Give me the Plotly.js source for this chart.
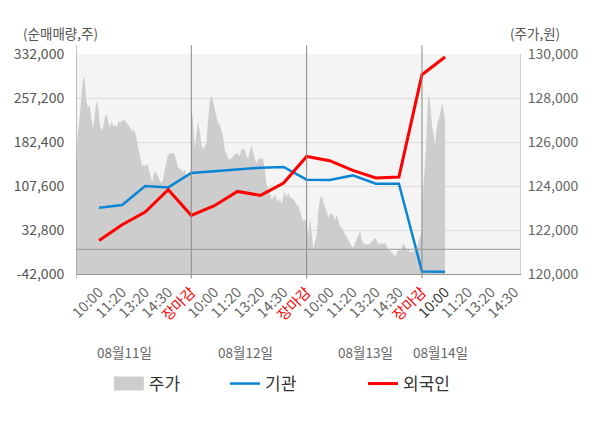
<!DOCTYPE html>
<html>
<head>
<meta charset="utf-8">
<script src="https://cdn.plot.ly/plotly-3.0.1.min.js"></script>
<style>
  html, body {margin: 0; padding: 0; background: #fff;}
  #graph {width: 600px; height: 428px;}
</style>
</head>
<body>
<div id="graph"></div>
<script>
//trading days and the time slots shown under each day
const days = ['08월11일', '08월12일', '08월13일', '08월14일']
const slotLabels = ['10:00', '11:20', '13:20', '14:30', '장마감']

//net buying (shares), one value per time slot
const institution = [70700, 75300, 107600, 105200, 129700, 133100, 136500, 138700, 139900, 118300,
  117800, 125600, 111500, 111500, -37600, -38000]
const foreign = [15100, 41800, 63400, 101300, 57600, 74100, 98400, 91600, 112700, 157900,
  150600, 134200, 121200, 122900, 296800, 326900]

//share price through each day (won)
const price0811 = [125100, 126350, 127000, 127800, 128750, 129000, 127900, 127550, 127700, 127100,
  126600, 127150, 127850, 127600, 126850, 126500, 126700, 127100, 127250, 126950,
  126650, 126950, 126700, 126800, 126650, 126950, 126850, 126950, 127000, 126950,
  126850, 126800, 126650, 126500, 126550, 126400, 126050, 125650, 125250, 124900,
  124950, 124900, 125050, 124750, 124450, 124150, 124600, 124650, 124500, 124300,
  124150, 124200, 124600, 125050, 125350, 125450, 125500, 125500, 125450, 125200,
  124900, 124750, 124800, 124600, 124750, 124500, 124450, 124650, 124750]
const price0812 = [127450, 127000, 125700, 126250, 126950, 126500, 125900, 125650, 125800, 125950,
  127000, 127750, 128150, 127800, 127500, 127150, 126850, 126800, 126550, 126250,
  125650, 125450, 125250, 125200, 125250, 125350, 125450, 125500, 125450, 125350,
  125650, 125700, 125600, 125350, 125250, 125600, 125850, 125500, 125200, 125050,
  125200, 125250, 125250, 125200, 124750, 124050, 123850, 123700, 123400, 123450,
  123600, 123400, 123250, 123450, 123150, 123500, 123750, 123450, 123700, 123500,
  123450, 123400, 123300, 123150, 123100, 122900, 122600, 122400, 122450, 122400]
const price0813 = [122400, 121700, 122600, 121900, 121100, 121500, 121700, 122850, 123400, 123550,
  123300, 123100, 122900, 122550, 122750, 122750, 122650, 122450, 122700, 122400,
  122150, 122100, 121950, 121800, 121650, 121550, 121400, 121250, 121200, 121400,
  121650, 121800, 121950, 121550, 121400, 121350, 121350, 121350, 121400, 121500,
  121550, 121650, 121500, 121350, 121400, 121400, 121350, 121400, 121250, 121100,
  121050, 120950, 120900, 120800, 120950, 121100, 121050, 121200, 121400, 121250,
  121050, 121100, 120950, 121050, 120950, 121250, 121100, 121500, 121700, 121950]
const price0814 = [123150, 124300, 124900, 125950, 127750, 128250, 127450, 126700, 126400, 125800,
  126550, 126950, 127100, 127450, 127750, 127400, 126950]

//axis ticks
const volumeTicks = [-42000, 32800, 107600, 182400, 257200, 332000]
const priceTicks = [120000, 122000, 124000, 126000, 128000, 130000]

//each day takes 5 slots on the x axis, the last day only runs to 10:00
const slotsPerDay = 5
const priceDays = [price0811, price0812, price0813, price0814]
const priceX = []
const priceY = []
priceDays.forEach((values, d) => {
  const span = d === priceDays.length - 1 ? 1 : slotsPerDay
  values.forEach((v, i) => {
    priceX.push(d * slotsPerDay + span * i / (values.length - 1))
    priceY.push(v)
  })
})

//x positions for the net buying lines
const slotX = institution.map((v, i) => i + 1)

//tick labels along the bottom
const tickVals = []
const tickText = []
days.forEach((day, d) => {
  const labels = d === days.length - 1 ? slotLabels.slice(0, 4) : slotLabels
  labels.forEach((label, i) => {
    tickVals.push(d * slotsPerDay + i + 1)
    if(label === '장마감') {
      tickText.push('<span style="color:#ff0000">' + label + '</span>')
    }else if(d === days.length - 1 && i === 0) {
      tickText.push('<span style="color:#333333">' + label + '</span>')
    }else {
      tickText.push(label)
    }
  })
})

const font = 'Noto Sans CJK KR, Noto Sans, sans-serif'
const grey = '#cdcdcd'

const priceTrace = {
  x: priceX,
  y: priceY,
  type: 'scatter',
  mode: 'lines',
  name: '주가',
  fill: 'tozeroy',
  fillcolor: grey,
  line: {width: 0, color: grey},
  hoverinfo: 'skip'
}
const institutionTrace = {
  x: slotX,
  y: institution,
  type: 'scatter',
  mode: 'lines',
  name: '기관',
  yaxis: 'y2',
  legend: 'legend2',
  line: {color: '#0a84d4', width: 2.5}
}
const foreignTrace = {
  x: slotX,
  y: foreign,
  type: 'scatter',
  mode: 'lines',
  name: '외국인',
  yaxis: 'y2',
  legend: 'legend3',
  line: {color: '#ff0000', width: 3}
}

//day separators and the zero line
const shapes = [0, 1, 2, 3].map(d => ({
  type: 'line', xref: 'x', yref: 'paper',
  x0: d * slotsPerDay, x1: d * slotsPerDay, y0: -0.02, y1: 1.04,
  line: {color: '#888888', width: 1}, layer: 'above'
}))
shapes.push({
  type: 'line', xref: 'paper', yref: 'y2',
  x0: 0, x1: 1, y0: 0, y1: 0,
  line: {color: '#999999', width: 1}, layer: 'above'
})

//date labels under the time labels
const dateX = [2.12, 7.33, 12.53, 15.79]
const annotations = days.map((day, d) => ({
  text: day, xref: 'x', yref: 'paper', x: dateX[d], y: -0.355,
  xanchor: 'center', yanchor: 'middle',
  showarrow: false, font: {size: 13.5, color: '#666666'}
}))
annotations.push({
  text: '(순매매량,주)', xref: 'paper', yref: 'paper', x: -0.034, y: 1.095,
  xanchor: 'center', yanchor: 'middle',
  showarrow: false, font: {size: 13.5, color: '#555555'}
})
annotations.push({
  text: '(주가,원)', xref: 'paper', yref: 'paper', x: 1.034, y: 1.095,
  xanchor: 'center', yanchor: 'middle',
  showarrow: false, font: {size: 13.5, color: '#555555'}
})

//one legend per item so each sits where the original puts it
const legendBase = {
  orientation: 'h', xanchor: 'left', y: -0.5, yanchor: 'middle',
  font: {size: 17, color: '#333333'}, bgcolor: 'rgba(0,0,0,0)'
}

const layout = {
  width: 600,
  height: 428,
  margin: {l: 76, r: 80, t: 54, b: 154, pad: 0},
  paper_bgcolor: '#ffffff',
  plot_bgcolor: '#f4f4f4',
  font: {family: font, color: '#666666'},
  showlegend: true,
  legend: {...legendBase, x: 0.074},
  legend2: {...legendBase, x: 0.3356},
  legend3: {...legendBase, x: 0.6464},
  xaxis: {
    range: [0, 19.25],
    tickvals: tickVals,
    ticktext: tickText,
    tickangle: -45,
    tickfont: {size: 14.5, color: '#666666'},
    ticks: 'outside', ticklen: 3, tickcolor: 'rgba(0,0,0,0)',
    showgrid: false, zeroline: false,
    showline: true, linecolor: '#999999', linewidth: 1
  },
  yaxis: {
    range: [120000, 130000],
    side: 'right',
    tickvals: priceTicks,
    tickformat: ',d',
    tickfont: {size: 14, color: '#666666'},
    ticks: 'outside', ticklen: 4, tickcolor: 'rgba(0,0,0,0)',
    gridcolor: '#dddddd',
    zeroline: false,
    showline: true, linecolor: '#cccccc'
  },
  yaxis2: {
    range: [-42000, 332000],
    overlaying: 'y',
    side: 'left',
    tickvals: volumeTicks,
    ticktext: volumeTicks.map(v => (v < 0 ? '-' : '') + Math.abs(v).toLocaleString('en-US')),
    tickfont: {size: 14, color: '#555555'},
    ticks: 'outside', ticklen: 8, tickcolor: 'rgba(0,0,0,0)',
    showgrid: false, zeroline: false, showline: false
  },
  shapes: shapes,
  annotations: annotations
}

const config = {displayModeBar: false, staticPlot: true}

Plotly.newPlot('graph', [priceTrace, institutionTrace, foreignTrace], layout, config).then(gd => {
  //the legend draws area swatches as a thin strip; make it a box like the original
  gd.querySelectorAll('.legendfill path').forEach(p => {
    p.setAttribute('d', 'M5,-7h30v14h-30z')
  })
})
</script>
</body>
</html>
